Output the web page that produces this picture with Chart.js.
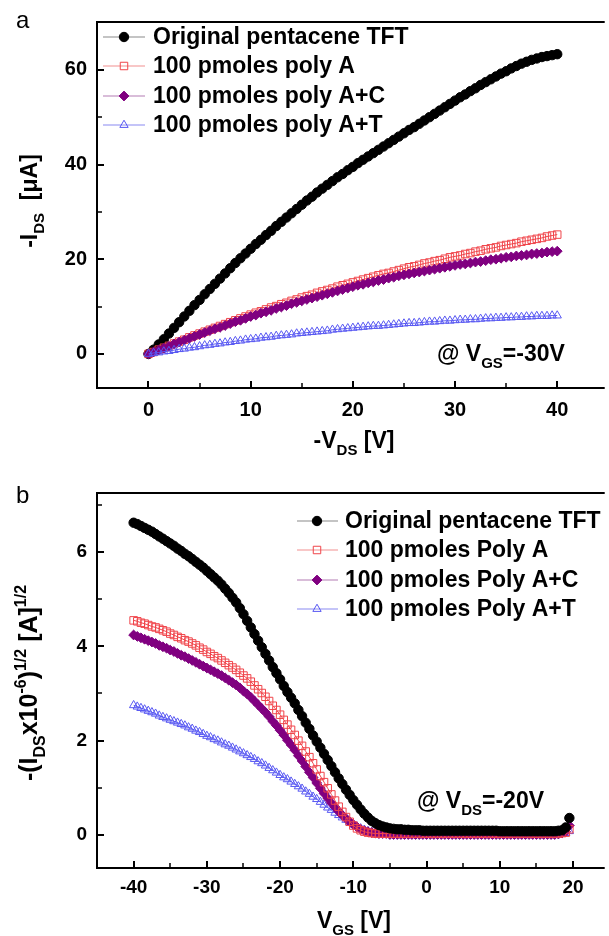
<!DOCTYPE html>
<html>
<head>
<meta charset="utf-8">
<script src="https://cdn.jsdelivr.net/npm/chart.js@4.4.1/dist/chart.umd.min.js"></script>
<style>
body { margin: 0; background: #fff; }
#wrap { position: relative; width: 609px; height: 936px; }
canvas { position: absolute; left: 0; }
</style>
</head>
<body>
<div id="wrap">
  <canvas id="chartA" width="609" height="468" style="top:0"></canvas>
  <canvas id="chartB" width="609" height="468" style="top:468px"></canvas>
</div>
<script>
// ---- panel a : output curves, -I_DS vs -V_DS ----
const seriesNames = ['Original pentacene TFT', '100 pmoles poly A', '100 pmoles poly A+C', '100 pmoles poly A+T'];
const seriesNamesB = ['Original pentacene TFT', '100 pmoles Poly A', '100 pmoles Poly A+C', '100 pmoles Poly A+T'];

const vds = [
  0, 0.5, 1, 1.5, 2, 2.5, 3, 3.5, 4, 4.5,
  5, 5.5, 6, 6.5, 7, 7.5, 8, 8.5, 9, 9.5,
  10, 10.5, 11, 11.5, 12, 12.5, 13, 13.5, 14, 14.5,
  15, 15.5, 16, 16.5, 17, 17.5, 18, 18.5, 19, 19.5,
  20, 20.5, 21, 21.5, 22, 22.5, 23, 23.5, 24, 24.5,
  25, 25.5, 26, 26.5, 27, 27.5, 28, 28.5, 29, 29.5,
  30, 30.5, 31, 31.5, 32, 32.5, 33, 33.5, 34, 34.5,
  35, 35.5, 36, 36.5, 37, 37.5, 38, 38.5, 39, 39.5,
  40
];
const idsOriginal = [
  0, 0.9, 2.0, 3.1, 4.3, 5.5, 6.7, 7.9, 9.1, 10.3,
  11.4, 12.6, 13.7, 14.8, 15.9, 17.0, 18.1, 19.2, 20.2, 21.2,
  22.2, 23.2, 24.1, 25.1, 26.0, 27.0, 27.9, 28.8, 29.7, 30.6,
  31.5, 32.4, 33.2, 34.1, 34.9, 35.7, 36.5, 37.3, 38.0, 38.8,
  39.5, 40.3, 41.0, 41.7, 42.4, 43.1, 43.8, 44.5, 45.2, 45.9,
  46.6, 47.3, 47.9, 48.6, 49.3, 50.0, 50.7, 51.4, 52.1, 52.8,
  53.5, 54.2, 54.8, 55.5, 56.1, 56.8, 57.4, 58.0, 58.6, 59.2,
  59.7, 60.3, 60.8, 61.3, 61.7, 62.1, 62.4, 62.7, 62.9, 63.1,
  63.3
];
const idsPolyA = [
  0, 0.4, 0.9, 1.3, 1.7, 2.2, 2.6, 3.0, 3.5, 3.9,
  4.3, 4.7, 5.1, 5.5, 5.9, 6.3, 6.7, 7.1, 7.5, 7.9,
  8.3, 8.7, 9.0, 9.4, 9.8, 10.1, 10.5, 10.8, 11.2, 11.5,
  11.9, 12.2, 12.5, 12.9, 13.2, 13.5, 13.8, 14.2, 14.5, 14.8,
  15.1, 15.4, 15.7, 16.0, 16.3, 16.6, 16.9, 17.1, 17.4, 17.7,
  18.0, 18.3, 18.5, 18.8, 19.1, 19.3, 19.6, 19.8, 20.1, 20.4,
  20.6, 20.8, 21.1, 21.3, 21.6, 21.8, 22.1, 22.3, 22.5, 22.8,
  23.0, 23.2, 23.4, 23.7, 23.9, 24.1, 24.3, 24.5, 24.8, 25.0,
  25.2
];
const idsPolyAC = [
  0, 0.4, 0.8, 1.2, 1.6, 2.1, 2.5, 2.9, 3.3, 3.7,
  4.1, 4.5, 4.9, 5.3, 5.6, 6.0, 6.4, 6.8, 7.1, 7.5,
  7.9, 8.2, 8.6, 8.9, 9.2, 9.6, 9.9, 10.2, 10.6, 10.9,
  11.2, 11.5, 11.8, 12.1, 12.4, 12.7, 13.0, 13.3, 13.6, 13.9,
  14.2, 14.5, 14.7, 15.0, 15.2, 15.5, 15.7, 16.0, 16.2, 16.5,
  16.7, 16.9, 17.1, 17.3, 17.5, 17.7, 17.9, 18.1, 18.3, 18.5,
  18.7, 18.9, 19.0, 19.2, 19.4, 19.5, 19.7, 19.9, 20.0, 20.2,
  20.4, 20.5, 20.7, 20.8, 20.9, 21.1, 21.2, 21.3, 21.5, 21.6,
  21.7
];
const idsPolyAT = [
  0, 0.2, 0.3, 0.5, 0.6, 0.8, 1.0, 1.1, 1.3, 1.4,
  1.6, 1.8, 1.9, 2.1, 2.2, 2.4, 2.5, 2.7, 2.8, 3.0,
  3.1, 3.2, 3.4, 3.5, 3.6, 3.8, 3.9, 4.0, 4.1, 4.3,
  4.4, 4.5, 4.6, 4.7, 4.8, 4.9, 5.1, 5.2, 5.3, 5.4,
  5.5, 5.6, 5.7, 5.8, 5.9, 5.9, 6.0, 6.1, 6.2, 6.3,
  6.4, 6.5, 6.5, 6.6, 6.7, 6.8, 6.8, 6.9, 7.0, 7.0,
  7.1, 7.2, 7.2, 7.3, 7.3, 7.4, 7.5, 7.5, 7.6, 7.6,
  7.7, 7.7, 7.8, 7.8, 7.9, 7.9, 8.0, 8.0, 8.0, 8.1,
  8.1
];
const ticksAX = [0, 10, 20, 30, 40];
const minorAX = [5, 15, 25, 35];
const ticksAY = [0, 20, 40, 60];
const minorAY = [10, 30, 50];

// ---- panel b : transfer curves, sqrt(I_DS) vs V_GS ----
const vgs = [
  -40, -39.5, -39, -38.5, -38, -37.5, -37, -36.5, -36, -35.5,
  -35, -34.5, -34, -33.5, -33, -32.5, -32, -31.5, -31, -30.5,
  -30, -29.5, -29, -28.5, -28, -27.5, -27, -26.5, -26, -25.5,
  -25, -24.5, -24, -23.5, -23, -22.5, -22, -21.5, -21, -20.5,
  -20, -19.5, -19, -18.5, -18, -17.5, -17, -16.5, -16, -15.5,
  -15, -14.5, -14, -13.5, -13, -12.5, -12, -11.5, -11, -10.5,
  -10, -9.5, -9, -8.5, -8, -7.5, -7, -6.5, -6, -5.5,
  -5, -4.5, -4, -3.5, -3, -2.5, -2, -1.5, -1, -0.5,
  0, 0.5, 1, 1.5, 2, 2.5, 3, 3.5, 4, 4.5,
  5, 5.5, 6, 6.5, 7, 7.5, 8, 8.5, 9, 9.5,
  10, 10.5, 11, 11.5, 12, 12.5, 13, 13.5, 14, 14.5,
  15, 15.5, 16, 16.5, 17, 17.5, 18, 18.5, 19, 19.5
];
const sqrtOriginal = [
  6.62, 6.59, 6.55, 6.51, 6.47, 6.43, 6.38, 6.33, 6.28, 6.23,
  6.18, 6.13, 6.07, 6.02, 5.96, 5.91, 5.85, 5.79, 5.73, 5.67,
  5.60, 5.53, 5.46, 5.39, 5.31, 5.22, 5.13, 5.03, 4.93, 4.81,
  4.68, 4.54, 4.40, 4.26, 4.12, 3.98, 3.84, 3.70, 3.56, 3.43,
  3.30, 3.16, 3.03, 2.91, 2.79, 2.65, 2.52, 2.38, 2.25, 2.11,
  1.98, 1.85, 1.72, 1.59, 1.46, 1.33, 1.20, 1.08, 0.96, 0.85,
  0.74, 0.64, 0.54, 0.45, 0.37, 0.30, 0.25, 0.21, 0.18, 0.16,
  0.14, 0.13, 0.12, 0.12, 0.11, 0.11, 0.10, 0.10, 0.10, 0.09,
  0.09, 0.09, 0.09, 0.09, 0.09, 0.09, 0.09, 0.09, 0.09, 0.09,
  0.09, 0.09, 0.09, 0.09, 0.09, 0.09, 0.09, 0.09, 0.09, 0.09,
  0.08, 0.08, 0.08, 0.08, 0.08, 0.08, 0.08, 0.08, 0.08, 0.08,
  0.08, 0.08, 0.08, 0.08, 0.08, 0.08, 0.09, 0.10, 0.16, 0.36
];
const sqrtPolyA = [
  4.55, 4.53, 4.50, 4.48, 4.45, 4.42, 4.40, 4.37, 4.34, 4.31,
  4.27, 4.24, 4.20, 4.17, 4.13, 4.10, 4.06, 4.02, 3.97, 3.93,
  3.88, 3.84, 3.79, 3.75, 3.70, 3.65, 3.60, 3.55, 3.50, 3.44,
  3.38, 3.32, 3.25, 3.17, 3.09, 3.01, 2.93, 2.84, 2.74, 2.65,
  2.55, 2.44, 2.34, 2.23, 2.12, 2.00, 1.89, 1.77, 1.65, 1.52,
  1.39, 1.25, 1.12, 0.99, 0.86, 0.73, 0.60, 0.49, 0.38, 0.28,
  0.20, 0.14, 0.10, 0.07, 0.05, 0.04, 0.03, 0.03, 0.03, 0.03,
  0.03, 0.03, 0.03, 0.03, 0.03, 0.03, 0.03, 0.03, 0.03, 0.03,
  0.03, 0.03, 0.03, 0.03, 0.03, 0.03, 0.03, 0.03, 0.03, 0.03,
  0.03, 0.03, 0.03, 0.03, 0.03, 0.03, 0.03, 0.03, 0.03, 0.03,
  0.03, 0.03, 0.03, 0.03, 0.03, 0.03, 0.03, 0.03, 0.03, 0.03,
  0.03, 0.03, 0.03, 0.03, 0.03, 0.03, 0.03, 0.04, 0.05, 0.12
];
const sqrtPolyAC = [
  4.24, 4.21, 4.18, 4.15, 4.12, 4.09, 4.06, 4.02, 3.99, 3.96,
  3.92, 3.89, 3.85, 3.81, 3.78, 3.74, 3.70, 3.66, 3.62, 3.58,
  3.54, 3.50, 3.46, 3.42, 3.38, 3.33, 3.28, 3.23, 3.18, 3.12,
  3.05, 2.99, 2.92, 2.84, 2.76, 2.68, 2.60, 2.51, 2.41, 2.32,
  2.22, 2.12, 2.01, 1.91, 1.80, 1.68, 1.57, 1.45, 1.33, 1.22,
  1.10, 0.99, 0.88, 0.78, 0.68, 0.59, 0.50, 0.42, 0.35, 0.28,
  0.22, 0.17, 0.12, 0.09, 0.07, 0.05, 0.04, 0.03, 0.03, 0.03,
  0.01, 0.01, 0.01, 0.01, 0.01, 0.01, 0.01, 0.01, 0.01, 0.01,
  0.01, 0.01, 0.01, 0.01, 0.01, 0.01, 0.01, 0.01, 0.01, 0.01,
  0.01, 0.01, 0.01, 0.01, 0.01, 0.01, 0.01, 0.01, 0.01, 0.01,
  0.01, 0.01, 0.01, 0.01, 0.01, 0.01, 0.01, 0.01, 0.01, 0.01,
  0.01, 0.01, 0.01, 0.01, 0.01, 0.01, 0.02, 0.04, 0.07, 0.20
];
const sqrtPolyAT = [
  2.75, 2.72, 2.69, 2.66, 2.63, 2.60, 2.57, 2.53, 2.50, 2.47,
  2.44, 2.41, 2.38, 2.35, 2.32, 2.28, 2.25, 2.21, 2.18, 2.14,
  2.10, 2.07, 2.03, 2.00, 1.96, 1.92, 1.89, 1.85, 1.81, 1.77,
  1.73, 1.69, 1.65, 1.61, 1.56, 1.52, 1.47, 1.42, 1.37, 1.32,
  1.27, 1.22, 1.18, 1.13, 1.08, 1.03, 0.98, 0.92, 0.87, 0.81,
  0.76, 0.70, 0.64, 0.58, 0.53, 0.47, 0.42, 0.37, 0.32, 0.27,
  0.22, 0.18, 0.14, 0.11, 0.08, 0.06, 0.05, 0.04, 0.03, 0.03,
  0.02, 0.02, 0.02, 0.02, 0.02, 0.02, 0.02, 0.02, 0.02, 0.02,
  0.02, 0.02, 0.02, 0.02, 0.02, 0.02, 0.02, 0.02, 0.02, 0.02,
  0.02, 0.02, 0.02, 0.02, 0.02, 0.02, 0.02, 0.02, 0.02, 0.02,
  0.02, 0.02, 0.02, 0.02, 0.02, 0.02, 0.02, 0.02, 0.02, 0.02,
  0.02, 0.02, 0.02, 0.02, 0.02, 0.02, 0.02, 0.03, 0.04, 0.08
];
const ticksBX = [-40, -30, -20, -10, 0, 10, 20];
const minorBX = [-35, -25, -15, -5, 5, 15];
const ticksBY = [0, 2, 4, 6];
const minorBY = [1, 3, 5, 7];

// marker look per series: black dots, open red squares, purple diamonds, open blue triangles
const looks = [
  { style: 'circle',   r: 4.7, fill: '#000000', stroke: '#000000', line: '#8a8a8a' },
  { style: 'rect',     r: 5.3, fill: 'rgba(0,0,0,0)', stroke: '#f0444a', line: '#f29090' },
  { style: 'rectRot',  r: 4.9, fill: '#800080', stroke: '#800080', line: '#b47cb4' },
  { style: 'triangle', r: 4.8, fill: 'rgba(0,0,0,0)', stroke: '#5858f2', line: '#8a8af2' }
];

const FONT = "'Liberation Sans', Arial, sans-serif";

function toPoints(xs, ys) {
  return xs.map((x, i) => ({ x: x, y: ys[i] }));
}

function makeDatasets(names, xs, ysList, orders) {
  return ysList.map((ys, i) => ({
    label: names[i],
    data: toPoints(xs, ys),
    showLine: true,
    borderColor: looks[i].stroke,
    borderWidth: 1,
    pointStyle: looks[i].style,
    pointRadius: looks[i].r,
    pointBackgroundColor: looks[i].fill,
    pointBorderColor: looks[i].stroke,
    pointBorderWidth: 1,
    order: orders[i]
  }));
}

function markerAt(ctx, look, x, y) {
  ctx.save();
  ctx.fillStyle = look.fill;
  ctx.strokeStyle = look.stroke;
  ctx.lineWidth = 1;
  Chart.helpers.drawPoint(ctx, { pointStyle: look.style, radius: look.r, borderWidth: 1 }, x, y);
  ctx.restore();
}

// text made of parts: [text, kind] with kind 0 normal, -1 subscript, 1 superscript
function richText(ctx, parts, x, y, size, align) {
  const small = Math.round(size * 0.64);
  const widths = parts.map(p => {
    ctx.font = 'bold ' + (p[1] ? small : size) + 'px ' + FONT;
    return ctx.measureText(p[0]).width;
  });
  const total = widths.reduce((a, b) => a + b, 0);
  let cx = align === 'center' ? x - total / 2 : x;
  ctx.textAlign = 'left';
  ctx.textBaseline = 'alphabetic';
  parts.forEach((p, i) => {
    ctx.font = 'bold ' + (p[1] ? small : size) + 'px ' + FONT;
    const dy = p[1] === -1 ? size * 0.3 : p[1] === 1 ? -size * 0.45 : 0;
    ctx.fillText(p[0], cx, y + dy);
    cx += widths[i];
  });
}

const decorPlugin = {
  id: 'decor',
  afterDraw(chart, args, opts) {
    const ctx = chart.ctx;
    const a = chart.chartArea;
    const sx = chart.scales.x, sy = chart.scales.y;
    ctx.save();
    ctx.fillStyle = '#000';
    ctx.strokeStyle = '#000';

    // frame: top, left, bottom (right side is cut off in the figure)
    ctx.lineWidth = 2;
    ctx.beginPath();
    ctx.moveTo(a.right + 2, a.top);
    ctx.lineTo(a.left, a.top);
    ctx.lineTo(a.left, a.bottom);
    ctx.lineTo(a.right + 2, a.bottom);
    ctx.stroke();

    // inward ticks
    const tick = (vals, len, w) => {
      ctx.lineWidth = w;
      ctx.beginPath();
      vals.x.forEach(v => {
        const px = Math.round(sx.getPixelForValue(v));
        ctx.moveTo(px, a.bottom);
        ctx.lineTo(px, a.bottom - len);
      });
      vals.y.forEach(v => {
        const py = Math.round(sy.getPixelForValue(v));
        ctx.moveTo(a.left, py);
        ctx.lineTo(a.left + len, py);
      });
      ctx.stroke();
    };
    tick(opts.major, 7, 2);
    tick(opts.minor, 5, 1.5);

    // panel letter
    ctx.font = '24px ' + FONT;
    ctx.textAlign = 'left';
    ctx.textBaseline = 'alphabetic';
    ctx.fillText(opts.letter[0], opts.letter[1], opts.letter[2]);

    // axis titles and note
    richText(ctx, opts.xTitle.parts, opts.xTitle.x, opts.xTitle.y, opts.xTitle.size, 'center');
    richText(ctx, opts.note.parts, opts.note.x, opts.note.y, opts.note.size, 'left');
    ctx.save();
    ctx.translate(opts.yTitle.x, opts.yTitle.y);
    ctx.rotate(-Math.PI / 2);
    richText(ctx, opts.yTitle.parts, 0, 0, opts.yTitle.size, 'center');
    ctx.restore();

    // legend
    const lg = opts.legend;
    chart.data.datasets.forEach((ds, i) => {
      const y = lg.rows[i];
      ctx.lineWidth = 1.2;
      ctx.strokeStyle = looks[i].line;
      ctx.beginPath();
      ctx.moveTo(lg.x0, y);
      ctx.lineTo(lg.x1, y);
      ctx.stroke();
      markerAt(ctx, looks[i], lg.mx, y);
      ctx.fillStyle = '#000';
      ctx.font = 'bold ' + lg.size + 'px ' + FONT;
      ctx.textAlign = 'left';
      ctx.textBaseline = 'middle';
      ctx.fillText(ds.label, lg.tx, y + 1);
    });
    ctx.restore();
  }
};

function makeChart(id, cfg) {
  const tickFont = { family: FONT, size: cfg.tickSize, weight: 'bold' };
  return new Chart(document.getElementById(id), {
    type: 'scatter',
    data: { datasets: cfg.datasets },
    options: {
      responsive: false,
      animation: false,
      devicePixelRatio: 1,
      layout: { padding: { left: 0, top: cfg.padTop, right: 1, bottom: 0 } },
      scales: {
        x: {
          type: 'linear', min: cfg.xRange[0], max: cfg.xRange[1],
          grid: { display: false, drawTicks: false },
          border: { display: false },
          ticks: { font: tickFont, color: '#000', padding: cfg.xPad, maxRotation: 0 },
          afterBuildTicks: s => { s.ticks = cfg.xTicks.map(v => ({ value: v })); },
          afterFit: s => { s.height = cfg.xHeight; }
        },
        y: {
          type: 'linear', min: cfg.yRange[0], max: cfg.yRange[1],
          grid: { display: false, drawTicks: false },
          border: { display: false },
          ticks: { font: tickFont, color: '#000', padding: 10 },
          afterBuildTicks: s => { s.ticks = cfg.yTicks.map(v => ({ value: v })); },
          afterFit: s => { s.width = 97; }
        }
      },
      plugins: {
        legend: { display: false },
        tooltip: { enabled: false },
        decor: cfg.decor
      }
    },
    plugins: [decorPlugin]
  });
}

makeChart('chartA', {
  datasets: makeDatasets(seriesNames, vds, [idsOriginal, idsPolyA, idsPolyAC, idsPolyAT], [4, 3, 2, 1]),
  xRange: [-5.04, 44.45], yRange: [-7.2, 70.1],
  xTicks: ticksAX, yTicks: ticksAY,
  padTop: 13, xHeight: 80, xPad: 10, tickSize: 20,
  decor: {
    major: { x: ticksAX, y: ticksAY },
    minor: { x: minorAX, y: minorAY },
    letter: ['a', 16, 28],
    xTitle: { parts: [['-V', 0], ['DS', -1], [' [V]', 0]], x: 354, y: 448, size: 23 },
    yTitle: { parts: [['-I', 0], ['DS', -1], ['  [\u03bcA]', 0]], x: 37, y: 201, size: 23 },
    note: { parts: [['@ V', 0], ['GS', -1], ['=-30V', 0]], x: 437, y: 361, size: 23 },
    legend: { x0: 103, x1: 145, mx: 124, tx: 153, rows: [37, 66, 96, 125], size: 23 }
  }
});

makeChart('chartB', {
  datasets: makeDatasets(seriesNamesB, vgs, [sqrtOriginal, sqrtPolyA, sqrtPolyAC, sqrtPolyAT], [1, 2, 3, 4]),
  xRange: [-45.0, 24.05], yRange: [-0.70, 7.25],
  xTicks: ticksBX, yTicks: ticksBY,
  padTop: 25, xHeight: 68, xPad: 8, tickSize: 19,
  decor: {
    major: { x: ticksBX, y: ticksBY },
    minor: { x: minorBX, y: minorBY },
    letter: ['b', 16, 35],
    xTitle: { parts: [['V', 0], ['GS', -1], [' [V]', 0]], x: 354, y: 460, size: 23 },
    yTitle: { parts: [['-(I', 0], ['DS', -1], ['x10', 0], ['-6', 1], [')', 0], ['1/2', 1], [' [A]', 0], ['1/2', 1]], x: 37, y: 215, size: 25 },
    note: { parts: [['@ V', 0], ['DS', -1], ['=-20V', 0]], x: 417, y: 340, size: 23 },
    legend: { x0: 297, x1: 338, mx: 317, tx: 345, rows: [53, 82, 112, 141], size: 23 }
  }
});
</script>
</body>
</html>
